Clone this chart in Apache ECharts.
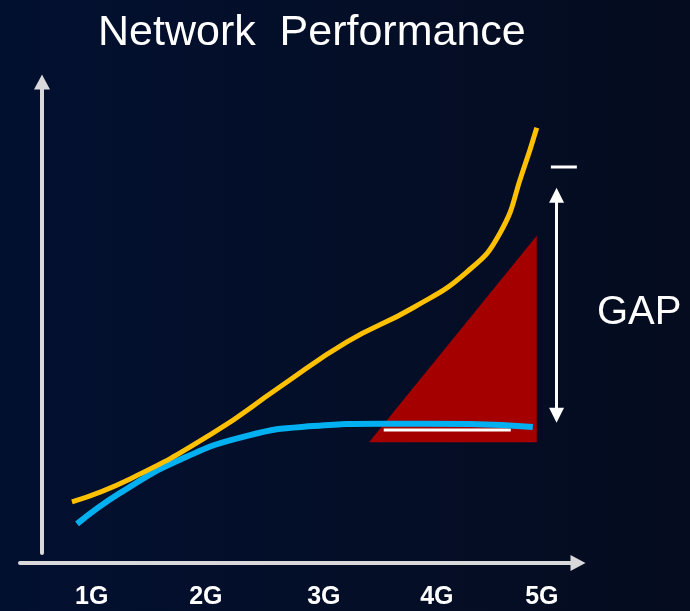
<!DOCTYPE html>
<html>
<head>
<meta charset="utf-8">
<title>Network Performance</title>
<script src="https://cdn.jsdelivr.net/npm/echarts@6/dist/echarts.min.js"></script>
<style>
html,body{margin:0;padding:0;background:#020f2b;}
#main{width:690px;height:611px;}
</style>
</head>
<body>
<div id="main"></div>
<script>
// x axis: time, 0..100 along the arrow; y axis: performance 0..100
var genNames=["1G","2G","3G","4G","5G"];
var genPos=[12.7,32.9,53.8,73.8,92.4];

// demand (yellow) and supply (blue) curves
var demand=[[9.2,12.5],[19.5,17.2],[34.2,26.6],[46.0,36.0],[57.9,45.2],[69.6,52.2],[79.1,59.5],[85.0,67.5],[89.0,80.0],[91.5,89.0]];
var supply=[[10.1,8.0],[17.7,14.3],[28.3,21.1],[40.2,26.0],[51.9,28.0],[63.7,28.5],[79.7,28.4],[90.8,27.8]];

// red wedge and the white base line under it
var wedge=[[61.8,24.7],[91.5,66.9],[91.5,24.7]];
var baseLine=[[64.4,27.2],[86.9,27.2]];

// GAP arrow (shaft ends) and the little dash above it
var gapArrow=[[95.0,30.2],[95.0,75.2]];
var dash=[[94.0,81.0],[98.6,81.0]];

var axisColor="#d9d9dc";
var font="'Liberation Sans', Arial, sans-serif";

var myChart=echarts.init(document.getElementById('main'),null,{renderer:'canvas'});
var option={
	animation:false,
	backgroundColor:{
		type:'linear',x:0,y:0,x2:1,y2:0,
		colorStops:[{offset:0,color:'#021030'},{offset:1,color:'#050c1f'}]
	},
	title:{
		text:'Network  Performance',
		left:93,
		top:7,
		textStyle:{color:'#ffffff',fontSize:43,fontWeight:'normal',fontFamily:font}
	},
	grid:[
		{left:20,right:112,top:74,bottom:48},
		{left:42,right:112,top:82,bottom:58}
	],
	xAxis:[{
		gridIndex:0,type:'value',min:0,max:98.8,
		axisLine:{show:true,onZero:false,symbol:['none','triangle'],symbolSize:[16,15],lineStyle:{color:axisColor,width:4}},
		axisTick:{show:false},
		splitLine:{show:false},
		axisLabel:{
			customValues:genPos,
			margin:22,
			color:'#ffffff',fontSize:25,fontWeight:'bold',fontFamily:font,
			formatter:function(v){
				var i=genPos.indexOf(v);
				return i>=0?genNames[i]:'';
			}
		}
	},{
		gridIndex:1,type:'value',min:0,max:1,show:false
	}],
	yAxis:[{
		gridIndex:0,type:'value',min:0,max:100,show:false
	},{
		gridIndex:1,type:'value',min:0,max:1,
		axisLine:{show:true,onZero:false,symbol:['none','triangle'],symbolSize:[16,15],lineStyle:{color:axisColor,width:4}},
		axisTick:{show:false},
		axisLabel:{show:false},
		splitLine:{show:false}
	}],
	graphic:[{
		type:'text',left:597,top:293,
		style:{text:'GAP',fill:'#ffffff',font:'40px '+font}
	}],
	series:[{
		type:'custom',
		xAxisIndex:0,yAxisIndex:0,
		data:wedge,
		renderItem:function(params,api){
			if(params.dataIndex!==0){return null;}
			var pts=wedge.map(function(p){return api.coord(p);});
			return {type:'polygon',shape:{points:pts},style:{fill:'#a50000'}};
		},
		z:1
	},{
		name:'baseLine',type:'line',data:baseLine,symbol:'none',
		lineStyle:{color:'#ffffff',width:3},z:2
	},{
		name:'supply',type:'line',data:supply,symbol:'none',smooth:0.5,
		lineStyle:{color:'#00b0f0',width:6},z:3
	},{
		name:'demand',type:'line',data:demand,symbol:'none',smooth:0.5,
		lineStyle:{color:'#ffc000',width:5},z:4
	},{
		name:'dash',type:'line',data:dash,symbol:'none',
		lineStyle:{color:'#ffffff',width:3},z:4,
		markLine:{
			silent:true,
			symbol:['triangle','triangle'],
			symbolSize:15,
			label:{show:false},
			lineStyle:{color:'#ffffff',width:3,type:'solid'},
			data:[[{coord:gapArrow[0]},{coord:gapArrow[1]}]]
		}
	}]
};
myChart.setOption(option);
</script>
</body>
</html>
